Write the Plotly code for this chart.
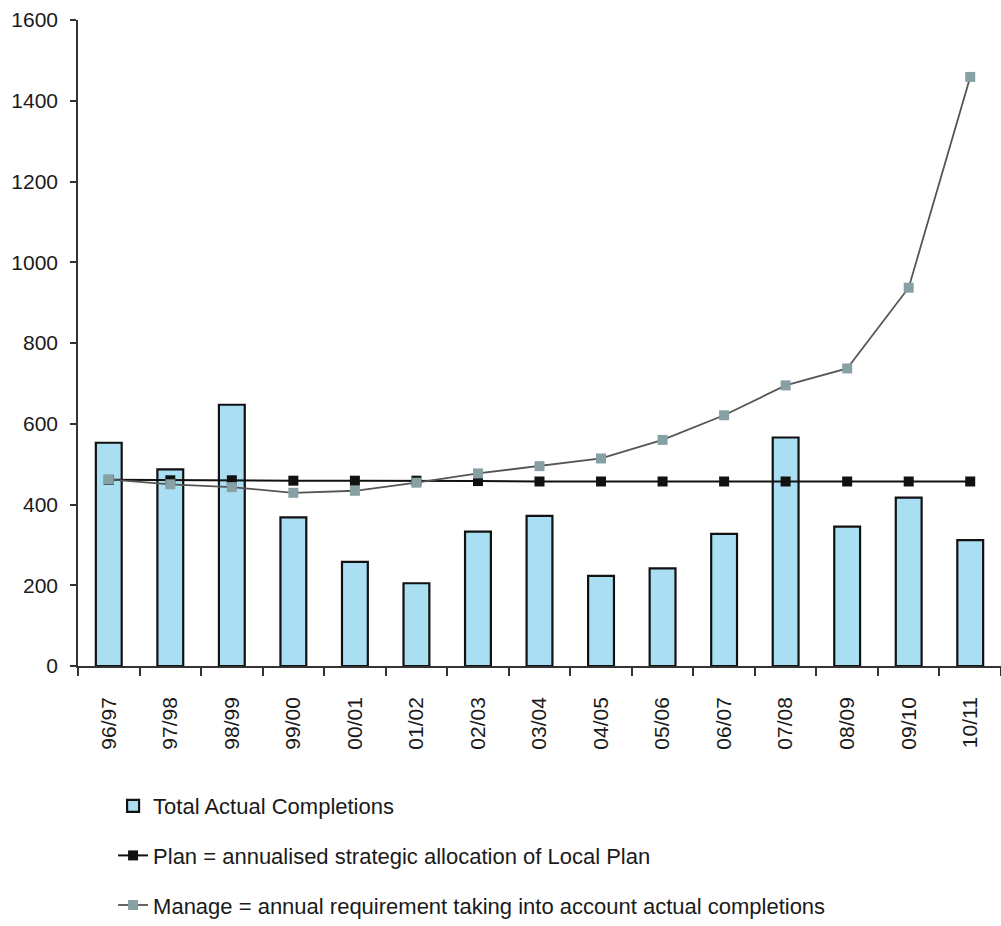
import plotly.graph_objects as go

categories = ["96/97", "97/98", "98/99", "99/00", "00/01", "01/02", "02/03", "03/04",
              "04/05", "05/06", "06/07", "07/08", "08/09", "09/10", "10/11"]
completions = [553, 487, 647, 368, 258, 205, 333, 372, 223, 242, 327, 566, 345, 417, 312]
plan = [461, 460, 460, 459, 459, 459, 458, 457, 457, 457, 457, 457, 457, 457, 457]
manage = [462, 450, 443, 429, 434, 454, 477, 495, 514, 560, 621, 695, 737, 937, 1459]
y_ticks = [0, 200, 400, 600, 800, 1000, 1200, 1400, 1600]

FONT = "Liberation Sans, Arial, sans-serif"
TXT = "#1a1a1a"

fig = go.Figure()
fig.add_trace(go.Bar(
    x=categories, y=completions, name="Total Actual Completions",
    marker=dict(color="#aadff3", line=dict(color="#111111", width=2.2)),
    legendgroup="a",
))
fig.add_trace(go.Scatter(
    x=categories, y=plan, mode="lines+markers",
    name="Plan = annualised strategic allocation of Local Plan",
    line=dict(color="#111111", width=2),
    marker=dict(symbol="square", size=10, color="#111111"),
    legendgroup="b",
))
fig.add_trace(go.Scatter(
    x=categories, y=manage, mode="lines+markers",
    name="Manage = annual requirement taking into account actual completions",
    line=dict(color="#555555", width=1.8),
    marker=dict(symbol="square", size=10, color="#86a0a4"),
    legendgroup="c",
))

fig.update_layout(
    width=1001, height=926,
    margin=dict(l=78, r=0, t=20, b=259),
    paper_bgcolor="white", plot_bgcolor="white",
    font=dict(family=FONT, size=21, color=TXT),
    bargap=0.58,
    showlegend=True,
    legend=dict(
        x=0.038, xanchor="left", y=-0.185, yanchor="top",
        orientation="v", tracegroupgap=18,
        font=dict(family=FONT, size=22, color=TXT),
        bgcolor="rgba(0,0,0,0)",
    ),
)
fig.update_xaxes(
    type="category", showgrid=False, showline=True, linecolor="#333333", linewidth=1.5,
    ticks="outside", tickson="boundaries", ticklen=8, tickcolor="#333333", tickwidth=1.5,
    tickangle=-90, tickfont=dict(family=FONT, size=21, color=TXT), ticklabelstandoff=21,
    range=[-0.5, len(categories) - 0.5],
)
fig.update_yaxes(
    range=[0, 1600], tickvals=y_ticks, showgrid=False, zeroline=False,
    showline=True, linecolor="#333333", linewidth=1.5,
    ticks="outside", ticklen=6, tickcolor="#333333", tickwidth=1.5,
    tickfont=dict(family=FONT, size=21, color=TXT), ticklabelstandoff=8,
)

fig.write_html("out.html")
